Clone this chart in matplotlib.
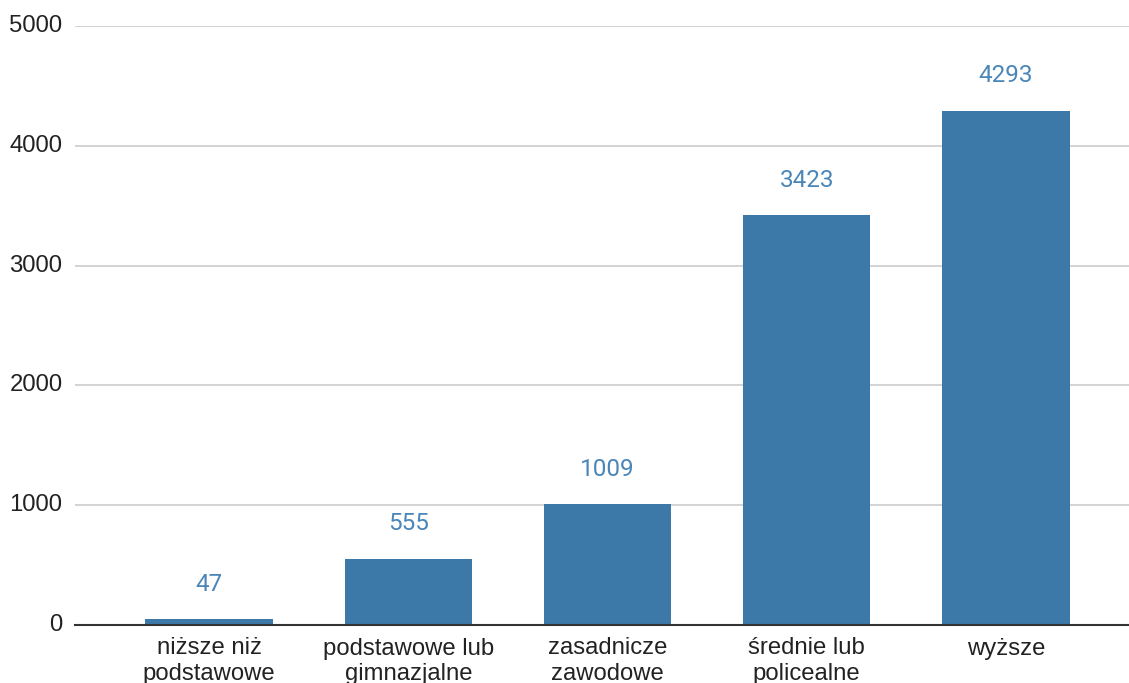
import matplotlib.pyplot as plt

# DATA
categories = ['niższe niż\npodstawowe', 'podstawowe lub\ngimnazjalne', 'zasadnicze\nzawodowe',
              'średnie lub\npolicealne', 'wyższe']
values = [47, 555, 1009, 3423, 4293]
yticks = [0, 1000, 2000, 3000, 4000, 5000]

plt.rcParams['font.family'] = ['Liberation Sans', 'DejaVu Sans']

fig = plt.figure(figsize=(11.29, 6.83), dpi=100)
ax = fig.add_axes([75 / 1129, 58 / 683, 1054 / 1129, 599 / 683])

bar_color = '#3c78a8'
x = list(range(len(categories)))
ax.bar(x, values, width=0.64, color=bar_color, zorder=3)

for xi, v in zip(x, values):
    ax.annotate(str(v), (xi, v), xytext=(0, 25), textcoords='offset points',
                ha='center', va='center', fontsize=17.5, color='#4a86b8',
                family=['Roboto', 'DejaVu Sans'])

ax.set_xlim(-0.673, 4.618)
ax.set_ylim(0, 5000)
ax.set_yticks(yticks)
ax.set_yticklabels([str(t) for t in yticks])
ax.set_xticks(x)
ax.set_xticklabels(categories, linespacing=1.2)

ax.grid(axis='y', color='#cccccc', linewidth=1.2, zorder=0)
for s in ['top', 'right', 'left']:
    ax.spines[s].set_visible(False)
ax.spines['bottom'].set_color('#333333')
ax.spines['bottom'].set_linewidth(1.5)
ax.spines['bottom'].set_zorder(4)

ax.tick_params(axis='both', length=0, labelsize=17.2, colors='#222222')
ax.tick_params(axis='y', pad=9)
ax.tick_params(axis='x', pad=9)
for lbl in ax.get_yticklabels():
    lbl.set_verticalalignment('center')

fig.savefig('out.png', dpi=100)
